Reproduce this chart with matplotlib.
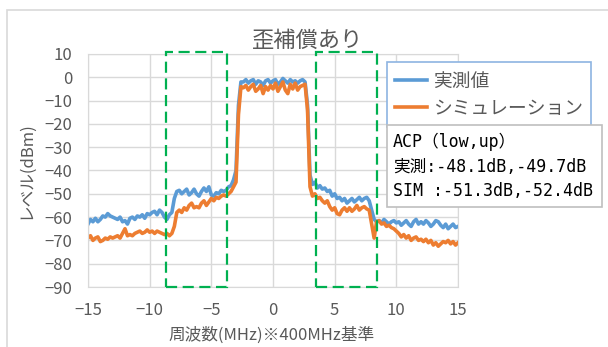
import numpy as np
import matplotlib.pyplot as plt
from matplotlib.patches import Rectangle

plt.rcParams['font.family'] = ['Noto Sans CJK JP', 'DejaVu Sans']

# 周波数軸 (MHz, 400MHz基準) 0.2MHz刻み
freq = np.round(np.arange(-15, 15.01, 0.2), 1)

# 実測値 (dBm)
measured = [
    -63, -61, -62, -60.5, -62, -61, -59.5, -60, -58.5, -59.5, -60,
    -60.5, -61, -60, -62, -61.5, -63, -60.5, -60, -61, -59.5,
    -60, -59, -60.5, -58.5, -59, -58, -57.5, -59, -57, -58,
    -60, -61, -59, -58, -52,
    -49, -48.5, -50, -49, -48, -50.5, -49.5, -48, -50, -51,
    -49, -47.5, -49, -47, -50.5, -51, -49.5, -50, -48.5, -49,
    -48.5, -47, -46.5, -44, -40,
    -12, -2,
    -2, -1, -2.5, -1.5, -1, -3, -1.5, -2, -3.5, -1.5, -1, -2.5, -1.5,
    -1, -3, -2, -0.5, -1.5, -2.5, -1, -2, -1.5, -2.5, -1.5, -1,
    -2, -12,
    -42, -46, -45, -47.5, -46.5, -48,
    -47.5, -49, -48.5, -51, -50, -52, -51.5, -53, -52, -54,
    -53, -52, -53.5, -52.5, -51.5, -53, -52, -51.5, -53, -57,
    -61, -62, -61.5, -62.5, -61, -62, -63, -62, -61.5, -62.5,
    -62, -63.5, -62.5, -61.5, -63, -64, -62, -61, -63, -62,
    -63, -61.5, -62.5, -64, -63, -61.5, -62, -63.5, -64.5, -63,
    -65, -64, -63, -64.5, -64,
]

# シミュレーション (dBm)
simulated = [
    -69, -68, -70, -69, -68.5, -70.5, -70, -69, -69.5, -68.5, -69,
    -68.5, -68, -69, -67, -65, -68, -67.5, -68, -67, -66.5,
    -66, -67, -66.5, -65.5, -66.5, -66, -67, -66, -66.5, -67,
    -67.5, -67, -68, -67, -64,
    -58, -57, -58, -56, -57, -55, -54, -56, -55.5, -56,
    -54, -53, -55, -53.5, -52, -53, -51.5, -52, -51, -50.5,
    -51, -50, -49, -47, -45,
    -16, -4,
    -4.5, -3.5, -5.5, -4, -3, -6, -5, -3.5, -7, -4, -5.5, -3.5, -5,
    -2.5, -6, -4, -2, -5.5, -7, -3, -5, -2.5, -5.5, -4, -3.5,
    -3, -14,
    -47, -51, -50, -52, -51.5, -53,
    -54, -53, -55.5, -57, -56, -58.5, -59, -57, -56, -57.5,
    -56, -57.5, -56.5, -55, -57, -56, -55.5, -56.5, -57, -63,
    -69, -62, -61.5, -63, -62.5, -64, -63.5, -64.5, -65, -66,
    -67, -68.5, -67.5, -69, -68, -70, -69, -68.5, -70, -69.5,
    -70.5, -69.5, -71, -70, -72, -71, -72.5, -71.5, -70.5, -71,
    -70, -71.5, -70.5, -72, -71,
]

# ACP 測定帯域 (MHz)
acp_low = (-8.67, -3.73)
acp_up = (3.49, 8.4)

acp_text = "ACP（low,up）\n実測:-48.1dB,-49.7dB\nSIM :-51.3dB,-52.4dB"

gray = '#595959'
fig = plt.figure(figsize=(6.08, 3.47), dpi=100)

# グラフエリアの枠
fig.patches.append(Rectangle((7 / 608, -0.1), 1.1, 1 - 10 / 347 + 0.1,
                             transform=fig.transFigure, fill=False,
                             edgecolor='#d9d9d9', lw=1.2))

ax = fig.add_axes([88 / 608, 1 - 287 / 347, 370 / 608, 233 / 347])
ax.plot(freq, measured, color='#5b9bd5', lw=2.6, label='実測値')
ax.plot(freq, simulated, color='#ed7d31', lw=2.6, label='シミュレーション')

for lo, hi in (acp_low, acp_up):
    ax.add_patch(Rectangle((lo, -90), hi - lo, 100.8, fill=False,
                           edgecolor='#00b050', lw=1.6, ls=(0, (5, 2.5)),
                           clip_on=False, zorder=5))

ax.set_xlim(-15, 15)
ax.set_ylim(-90, 10)
ax.set_xticks(range(-15, 16, 5))
ax.set_yticks(range(-90, 11, 10))
ax.grid(color='#d9d9d9', lw=1)
ax.set_axisbelow(True)
for s in ax.spines.values():
    s.set_color('#d9d9d9')
ax.tick_params(length=0, pad=11, labelsize=12, labelcolor=gray)

fig.text(308 / 608, 1 - 40 / 347, '歪補償あり', ha='center', va='center',
         fontsize=16, color=gray)
fig.text(272 / 608, 1 - 335 / 347, '周波数(MHz)※400MHz基準', ha='center',
         va='center', fontsize=12, color=gray)
fig.text(26 / 608, 1 - 170 / 347, 'レベル(dBm)', ha='center', va='center',
         rotation=90, fontsize=12, color=gray)

leg = ax.legend(loc='upper left', bbox_to_anchor=(387 / 608, 1 - 62 / 347),
                bbox_transform=fig.transFigure, borderaxespad=0, fontsize=13.5,
                handlelength=1.7, handletextpad=0.3, labelspacing=0.35,
                borderpad=0.45, fancybox=False, framealpha=1)
leg.get_frame().set_edgecolor('#8db4e2')
leg.get_frame().set_linewidth(1.2)
for t in leg.get_texts():
    t.set_color(gray)

# ACP 表示用テキストボックス
fig.patches.append(Rectangle((387 / 608, 1 - 207 / 347), 215 / 608, 82 / 347,
                             transform=fig.transFigure, facecolor='white',
                             edgecolor='#bfbfbf', lw=1.2, zorder=6))
fig.text(393 / 608, 1 - 133 / 347, acp_text, ha='left', va='top',
         fontsize=12, linespacing=1.45, color='black', zorder=7,
         family=['DejaVu Sans Mono', 'Noto Sans CJK JP'])

fig.savefig('out.png', dpi=100)
